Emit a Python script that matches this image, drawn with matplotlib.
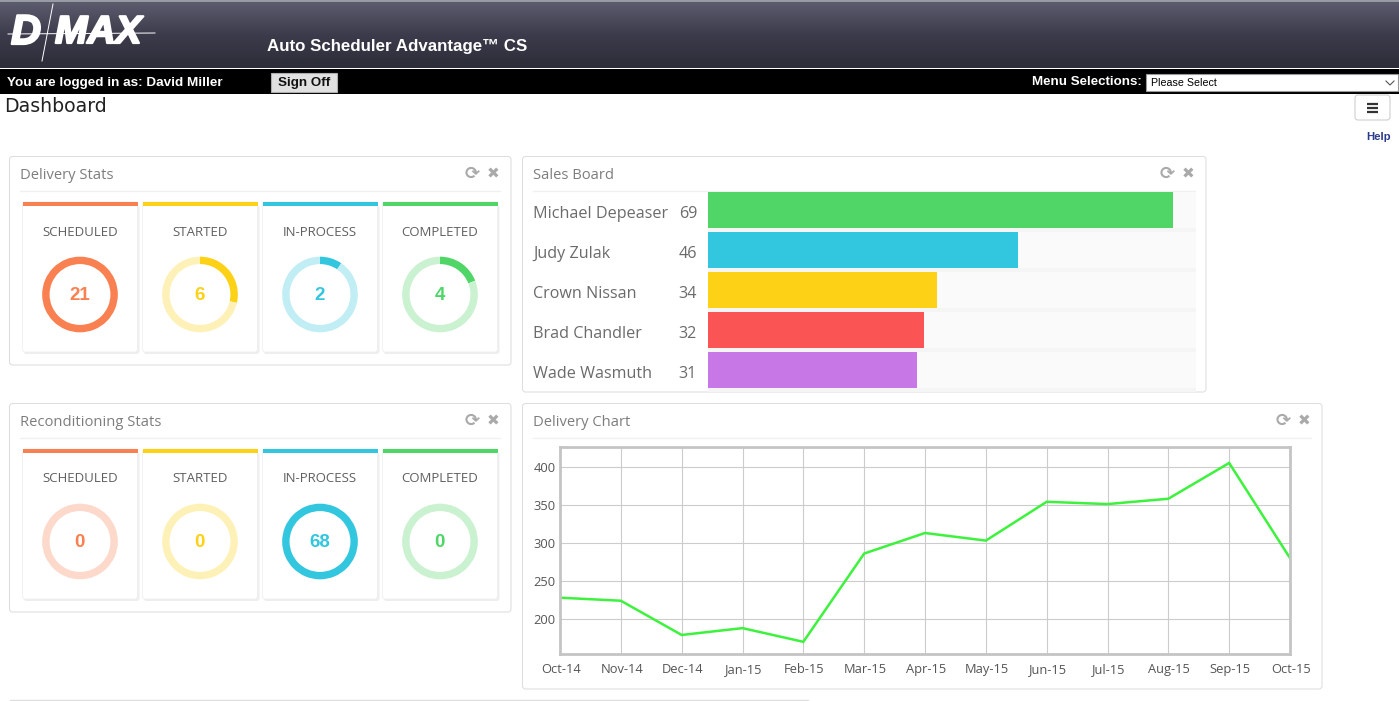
import numpy as np
import matplotlib
matplotlib.use("Agg")
import matplotlib.pyplot as plt
import matplotlib.patheffects as pe
from matplotlib.colors import LinearSegmentedColormap
from matplotlib.patches import FancyBboxPatch, Rectangle
from matplotlib.transforms import ScaledTranslation

W, H = 1399, 701

stat_labels = ["SCHEDULED", "STARTED", "IN-PROCESS", "COMPLETED"]
delivery_stats = [21, 6, 2, 4]
recon_stats = [0, 0, 68, 0]

sales_names = ["Michael Depeaser", "Judy Zulak", "Crown Nissan", "Brad Chandler", "Wade Wasmuth"]
sales_values = [69, 46, 34, 32, 31]

months = ["Oct-14", "Nov-14", "Dec-14", "Jan-15", "Feb-15", "Mar-15", "Apr-15",
          "May-15", "Jun-15", "Jul-15", "Aug-15", "Sep-15", "Oct-15"]
deliveries = [228, 224, 179, 188, 170, 286, 313, 303, 354, 351, 358, 405, 280]
y_ticks = [200, 250, 300, 350, 400]

stat_colors = ["#f98050", "#fdd116", "#33c7df", "#50d667"]
stat_light = ["#fdd9cb", "#fef1b8", "#c1edf4", "#caf2d1"]
sales_colors = ["#50d667", "#33c7df", "#fdd116", "#fa5454", "#c878e6"]

SANS = "Open Sans"
ARIAL = "Liberation Sans"


def add_px_axes(left, top, right, bottom):
    return fig.add_axes([left / W, 1 - bottom / H, (right - left) / W, (bottom - top) / H])


def rounded(x0, y0, x1, y1, fc="white", ec="#dedede", r=3, lw=0.75, z=1):
    bg.add_patch(FancyBboxPatch((x0 + r, y0 + r), x1 - x0 - 2 * r, y1 - y0 - 2 * r,
                                boxstyle="round,pad=%d,rounding_size=%d" % (r, r),
                                fc=fc, ec=ec, lw=lw, zorder=z))


def panel(x0, y0, x1, y1, title):
    rounded(x0 + 0.5, y0 + 0.5, x1, y1)
    bg.text(x0 + 11, y0 + 19.5, title, family=SANS, fontsize=10.6, color="#7d7d7d", va="center")
    bg.plot([x0 + 11, x1 - 11], [y0 + 35, y0 + 35], color="#f0f0f0", lw=1, zorder=2)
    bg.text(x1 - 38.5, y0 + 17.5, "\u27f3", family="DejaVu Sans", fontsize=13, fontweight="bold",
            color="#aaaaaa", ha="center", va="center")
    bg.text(x1 - 17.5, y0 + 17.5, "\u2716", family="DejaVu Sans", fontsize=11,
            color="#aaaaaa", ha="center", va="center")


def stat_row(top, values):
    total = max(values)
    for i, (label, val) in enumerate(zip(stat_labels, values)):
        x0 = 22.5 + 120 * i
        x1 = x0 + 115
        # card with soft shadow and coloured top strip
        rounded(x0 + 1, top + 3, x1 + 2, top + 152, fc="#eeeeee", ec="none", z=1)
        rounded(x0, top, x1, top + 150, fc="white", ec="#f0f0f0", lw=0.6, z=2)
        bg.add_patch(Rectangle((x0, top), x1 - x0, 4, fc=stat_colors[i], ec="none", zorder=3))
        cx = x0 + 57.5
        cy = top + 92.5
        bg.text(cx, top + 30, label, family=SANS, fontsize=9.5, color="#5f5f5f",
                ha="center", va="center", zorder=4)
        ax = add_px_axes(cx - 39, cy - 39, cx + 39, cy + 39)
        ax.pie([val, total - val], colors=[stat_colors[i], stat_light[i]], startangle=90,
               counterclock=False, radius=0.97, wedgeprops={"width": 0.19, "linewidth": 0})
        ax.set_xlim(-1, 1)
        ax.set_ylim(-1, 1)
        ax.text(-0.01, -0.03, str(val), family=ARIAL, fontsize=13.5, fontweight="bold",
                color=stat_colors[i], ha="center", va="center")


fig = plt.figure(figsize=(W / 100, H / 100), dpi=100, facecolor="white")

# pixel-space layer for the page furniture
bg = fig.add_axes([0, 0, 1, 1], zorder=0)
grad = np.linspace(0, 1, 66).reshape(-1, 1)
bg.imshow(grad, extent=(0, W, 68, 2), aspect="auto", zorder=1,
          cmap=LinearSegmentedColormap.from_list("hdr", ["#5b5b6e", "#3b3b4b", "#2d2d39"]))
bg.set_xlim(0, W)
bg.set_ylim(H, 0)
bg.axis("off")
bg.add_patch(Rectangle((0, 0), W, 2, fc="#9a9aa4", ec="none", zorder=1))
bg.add_patch(Rectangle((0, 69), W, 25, fc="black", ec="none", zorder=1))

# logo
heavy = [pe.withStroke(linewidth=1.6, foreground="white")]
bg.text(11, 33, "D", family=ARIAL, fontsize=30, fontweight="bold", style="italic",
        color="white", va="center", zorder=3, path_effects=heavy)
bg.text(55, 33, "MAX", family=ARIAL, fontsize=28, fontweight="bold", style="italic",
        color="white", va="center", zorder=3, path_effects=heavy)
bg.plot([8, 155], [34, 33], color="white", lw=0.7, zorder=4)
bg.plot([53, 42], [4, 61], color="white", lw=0.7, zorder=4)

bg.text(267, 46, "Auto Scheduler Advantage\u2122 CS", family=ARIAL, fontsize=12.2,
        fontweight="bold", color="white", va="center", zorder=3)
bg.text(7, 83, "You are logged in as: David Miller", family=ARIAL, fontsize=9.7,
        fontweight="bold", color="white", va="center", zorder=3)
bg.add_patch(Rectangle((271, 73), 66, 19, fc="#e1e1e1", ec="#adadad", lw=0.8, zorder=3))
bg.text(304.5, 83, "Sign Off", family=ARIAL, fontsize=9.6, fontweight="bold",
        color="#111111", ha="center", va="center", zorder=4)
bg.text(1142, 82, "Menu Selections:", family=ARIAL, fontsize=9.6, fontweight="bold",
        color="white", ha="right", va="center", zorder=3)
bg.add_patch(Rectangle((1146, 74), 252, 17, fc="white", ec="#999999", lw=0.8, zorder=3))
bg.text(1151, 82.5, "Please Select", family=ARIAL, fontsize=7.7, color="black", va="center", zorder=4)
bg.plot([1386, 1390, 1394], [81, 85, 81], color="#555555", lw=0.8, zorder=4)

bg.text(4, 106.5, "Dashboard", family="DejaVu Sans", fontsize=13.6, color="#222222", va="center")
rounded(1355, 95, 1390, 120, ec="#cccccc")
for yy in [103.5, 107.5, 111.5]:
    bg.plot([1367, 1378], [yy, yy], color="#333333", lw=1.6, zorder=3, solid_capstyle="butt")
bg.text(1391, 136.5, "Help", family=ARIAL, fontsize=8.2, fontweight="bold", color="#2a3a8c",
        ha="right", va="center")

panel(9, 156, 511, 365, "Delivery Stats")
panel(9, 403, 511, 612, "Reconditioning Stats")
panel(522, 156, 1206, 392, "Sales Board")
panel(522, 403, 1322, 689, "Delivery Chart")
bg.plot([10, 808], [700, 700], color="#dddddd", lw=1)

stat_row(202, delivery_stats)
stat_row(449, recon_stats)

# sales board
sales_ax = add_px_axes(708, 192, 1196, 392)
pos = np.arange(len(sales_values))
sales_ax.set_facecolor("#f5f5f5")
sales_ax.barh(pos, [72.4] * len(pos), height=0.9, color="#fafafa")
sales_ax.barh(pos, sales_values, height=0.9, color=sales_colors)
sales_ax.set_xlim(0, 72.4)
sales_ax.set_ylim(4.55, -0.45)
sales_ax.set_xticks([])
sales_ax.set_yticks([])
for s in sales_ax.spines.values():
    s.set_visible(False)
for i, (name, val) in enumerate(zip(sales_names, sales_values)):
    bg.text(533, 213.5 + 40 * i, name, family=SANS, fontsize=11.6, color="#6b6b6b", va="center")
    bg.text(697, 213.5 + 40 * i, str(val), family=SANS, fontsize=11.6, color="#6b6b6b",
            ha="right", va="center")

# delivery line chart
ax = add_px_axes(560, 447, 1290, 654)
x = np.arange(len(months))
ax.plot(x, deliveries, color="#3df23d", lw=1.8, solid_joinstyle="miter")
ax.set_xlim(0, len(months) - 1)
ax.set_ylim(154, 426)
ax.set_xticks(x)
ax.set_xticklabels(months)
ax.set_yticks(y_ticks)
ax.grid(True, color="#cccccc", lw=0.8)
ax.set_axisbelow(True)
ax.tick_params(length=0, labelsize=9.3, labelcolor="#555555")
ax.tick_params(axis="x", pad=13.5)
ax.tick_params(axis="y", pad=3)
nudge = ScaledTranslation(1 / 100, 0, fig.dpi_scale_trans)
for label in ax.get_xticklabels():
    label.set_family(SANS)
    label.set_verticalalignment("baseline")
    label.set_transform(label.get_transform() + nudge)
for label in ax.get_yticklabels():
    label.set_family(SANS)
for s in ax.spines.values():
    s.set_color("#c4c4c4")
    s.set_linewidth(2)

fig.savefig("out.png", dpi=100)
